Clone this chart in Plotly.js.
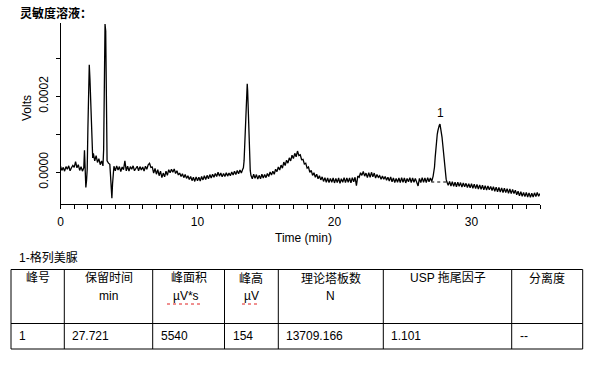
<!DOCTYPE html>
<html><head><meta charset="utf-8">
<script src="https://cdn.plot.ly/plotly-3.0.1.min.js"></script>
<style>html,body{margin:0;padding:0;background:#fff;}#chart{width:598px;height:368px;}</style>
</head><body><div id="chart"></div>
<script>
// ---- data ----
const timeMin = [
0.0,0.1,0.2,0.3,0.4,0.5,0.6,0.7,0.8,0.9,
1.0,1.1,1.2,1.3,1.4,1.5,1.6,1.7,1.75,1.8,
1.85,1.9,1.95,2.0,2.05,2.1,2.15,2.2,2.25,2.3,
2.35,2.4,2.5,2.6,2.7,2.8,2.9,3.0,3.1,3.15,
3.2,3.25,3.3,3.35,3.4,3.5,3.6,3.65,3.7,3.75,
3.8,3.85,3.9,4.0,4.1,4.2,4.3,4.4,4.5,4.6,
4.7,4.8,4.9,5.0,5.1,5.2,5.3,5.4,5.5,5.6,
5.7,5.8,5.9,6.0,6.1,6.2,6.3,6.4,6.5,6.6,
6.7,6.8,6.9,7.0,7.1,7.2,7.3,7.4,7.5,7.6,
7.7,7.8,7.9,8.0,8.1,8.2,8.3,8.4,8.5,8.6,
8.7,8.8,8.9,9.0,9.1,9.2,9.3,9.4,9.5,9.6,
9.7,9.8,9.9,10.0,10.1,10.2,10.3,10.4,10.5,10.6,
10.7,10.8,10.9,11.0,11.1,11.2,11.3,11.4,11.5,11.6,
11.7,11.8,11.9,12.0,12.1,12.2,12.3,12.4,12.5,12.6,
12.7,12.8,12.9,13.0,13.1,13.2,13.3,13.35,13.4,13.45,
13.5,13.55,13.6,13.63,13.66,13.7,13.75,13.8,13.85,13.9,
14.0,14.1,14.2,14.3,14.4,14.5,14.6,14.7,14.8,14.9,
15.0,15.1,15.2,15.3,15.4,15.5,15.6,15.7,15.8,15.9,
16.0,16.1,16.2,16.3,16.4,16.5,16.6,16.7,16.8,16.9,
17.0,17.1,17.2,17.3,17.4,17.5,17.6,17.7,17.8,17.9,
18.0,18.1,18.2,18.3,18.4,18.5,18.6,18.7,18.8,18.9,
19.0,19.1,19.2,19.3,19.4,19.5,19.6,19.7,19.8,19.9,
20.0,20.1,20.2,20.3,20.4,20.5,20.6,20.7,20.8,20.9,
21.0,21.1,21.2,21.3,21.4,21.5,21.6,21.7,21.8,21.9,
22.0,22.1,22.2,22.3,22.4,22.5,22.6,22.7,22.8,22.9,
23.0,23.1,23.2,23.3,23.4,23.5,23.6,23.7,23.8,23.9,
24.0,24.1,24.2,24.3,24.4,24.5,24.6,24.7,24.8,24.9,
25.0,25.1,25.2,25.3,25.4,25.5,25.6,25.7,25.8,25.9,
26.0,26.1,26.2,26.3,26.4,26.5,26.6,26.7,26.8,26.9,
27.0,27.1,27.2,27.25,27.3,27.35,27.4,27.45,27.5,27.55,
27.6,27.65,27.7,27.75,27.8,27.85,27.9,27.95,28.0,28.05,
28.1,28.15,28.2,28.3,28.4,28.5,28.6,28.7,28.8,28.9,
29.0,29.1,29.2,29.3,29.4,29.5,29.6,29.7,29.8,29.9,
30.0,30.1,30.2,30.3,30.4,30.5,30.6,30.7,30.8,30.9,
31.0,31.1,31.2,31.3,31.4,31.5,31.6,31.7,31.8,31.9,
32.0,32.1,32.2,32.3,32.4,32.5,32.6,32.7,32.8,32.9,
33.0,33.1,33.2,33.3,33.4,33.5,33.6,33.7,33.8,33.9,
34.0,34.1,34.2,34.3,34.4,34.5,34.6,34.7,34.8,34.9,
35.0];
// detector signal in microvolts
const signalUV = [
16,5,13,3,15,8,17,4,12,18,
13,28,12,20,5,15,3,12,58,18,
-40,-22,8,115,262,283,245,185,120,58,
38,50,30,44,26,36,20,30,17,60,
300,390,372,120,30,24,21,-8,-52,-68,
-30,4,16,4,17,6,15,2,14,7,
30,4,16,3,15,8,17,4,12,16,
4,15,6,14,3,16,8,20,24,13,
14,-2,10,-5,7,-9,3,-14,-2,-12,
3,-8,7,-1,8,0,9,-3,4,-7,
-2,-11,-4,-14,-6,-16,-9,-19,-11,-22,
-13,-24,-12,-22,-13,-23,-11,-20,-9,-19,
-8,-17,-6,-15,-5,-13,-3,-11,0,-10,
-2,-12,-3,-11,-1,-10,-2,-9,1,-7,
3,-6,5,-4,6,-2,8,12,30,80,
130,190,228,233,215,170,90,30,5,-8,
-17,-5,-16,-6,-18,-8,-17,-5,-15,-6,
-14,-3,-11,1,-7,3,-5,8,2,14,
6,19,11,27,18,32,24,38,30,45,
36,50,41,56,44,46,33,34,22,24,
11,14,0,5,-8,-1,-13,-5,-17,-9,
-20,-12,-24,-14,-26,-15,-27,-16,-26,-15,
-28,-16,-27,-15,-29,-17,-26,-14,-27,-15,
-26,-15,-28,-14,-25,-13,-35,-10,-13,-1,
-8,2,-10,-2,-14,-1,-13,0,-12,-2,
-15,-6,-13,-9,-18,-10,-18,-11,-21,-13,
-23,-12,-25,-15,-27,-16,-26,-15,-27,-14,
-26,-15,-28,-16,-25,-14,-27,-15,-26,-16,
-25,-36,-16,-27,-14,-26,-15,-27,-14,-25,
-15,-24,-10,0,14,40,65,85,100,110,
120,124,127,118,108,92,74,52,32,12,
-3,-18,-25,-34,-24,-36,-25,-37,-26,-38,
-26,-37,-27,-39,-28,-38,-29,-40,-30,-41,
-30,-42,-31,-43,-32,-44,-33,-45,-34,-46,
-35,-47,-36,-46,-37,-48,-38,-50,-39,-51,
-40,-52,-41,-53,-42,-53,-43,-55,-44,-56,
-45,-56,-47,-59,-50,-62,-51,-63,-53,-64,
-53,-65,-54,-66,-55,-65,-54,-64,-53,-63,
-56];
const baselineTime = [27.06, 28.40];
const baselineUV = [-25.5, -25.5];
const peakLabels = ['1'];
const peakTimes = [27.721];
const peakApexUV = [127];
const xTickVals = [0, 10, 20, 30];
const yTickVals = [0, 0.0002];
const yTickText = ['0.0000', '0.0002'];
const chartTitle = '灵敏度溶液：';
const xTitle = 'Time (min)';
const yTitle = 'Volts';
const compoundName = '1-格列美脲';
const tableHeader = ['峰号', '保留时间', '峰面积', '峰高', '理论塔板数', 'USP 拖尾因子', '分离度'];
const tableUnits = ['', 'min', 'µV*s', 'µV', 'N', '', ''];
const tableRow = ['1', '27.721', '5540', '154', '13709.166', '1.101', '--'];

// ---- layout helpers ----
const W = 598, H = 368;
const px = x => x / W;
const py = y => 1 - y / H;
const FONT = 'Liberation Sans, Arial, "Noto Sans CJK SC", sans-serif';
const CJK = '"Noto Sans CJK SC", "Liberation Sans", sans-serif';

const toV = uv => uv * 1e-6;

const traces = [
  {
    x: timeMin, y: signalUV.map(toV), type: 'scatter', mode: 'lines',
    line: {color: '#000', width: 1.3}, hoverinfo: 'skip'
  },
  {
    x: baselineTime, y: baselineUV.map(toV), type: 'scatter', mode: 'lines',
    line: {color: '#000', width: 1, dash: '3px,3px'}, hoverinfo: 'skip'
  }
];

const annotations = [];
const shapes = [];

// chart title and axis titles
annotations.push({xref: 'paper', yref: 'paper', x: px(18), y: py(12.5), xanchor: 'left', yanchor: 'middle',
  text: '<b>' + chartTitle + '</b>', showarrow: false, font: {family: CJK, size: 12, color: '#000'}});
annotations.push({xref: 'paper', yref: 'paper', x: px(303), y: py(238), xanchor: 'center', yanchor: 'middle',
  text: xTitle, showarrow: false, font: {family: FONT, size: 12, color: '#000'}});
annotations.push({xref: 'paper', yref: 'paper', x: px(27), y: py(108), xanchor: 'center', yanchor: 'middle',
  text: yTitle, textangle: -90, showarrow: false, font: {family: FONT, size: 12, color: '#000'}});

// peak labels
peakLabels.forEach((lab, i) => {
  annotations.push({x: peakTimes[i], y: toV(peakApexUV[i]), xref: 'x', yref: 'y', text: lab,
    showarrow: false, yanchor: 'middle', yshift: 11, font: {family: FONT, size: 12, color: '#000'}});
});

// compound caption
annotations.push({xref: 'paper', yref: 'paper', x: px(17), y: py(257.5), xanchor: 'left', yanchor: 'middle',
  text: compoundName, showarrow: false, font: {family: FONT, size: 12, color: '#000'}});

// table grid
const colEdges = [11, 64.3, 152.7, 224.5, 278.3, 383.3, 511.7, 582.7];
const rowEdges = [269.5, 323.5, 349];
rowEdges.forEach(y => shapes.push({type: 'line', xref: 'paper', yref: 'paper',
  x0: px(colEdges[0]), x1: px(colEdges[colEdges.length - 1]), y0: py(y), y1: py(y),
  line: {color: '#000', width: 1}}));
colEdges.forEach(x => shapes.push({type: 'line', xref: 'paper', yref: 'paper',
  x0: px(x), x1: px(x), y0: py(rowEdges[0]), y1: py(rowEdges[rowEdges.length - 1]),
  line: {color: '#000', width: 1}}));

tableHeader.forEach((h, i) => {
  const cx = (colEdges[i] + colEdges[i + 1]) / 2;
  annotations.push({xref: 'paper', yref: 'paper', x: px(cx), y: py(278), xanchor: 'center', yanchor: 'middle',
    text: h, showarrow: false, font: {family: FONT, size: 12, color: '#000'}});
  if (tableUnits[i]) {
    annotations.push({xref: 'paper', yref: 'paper', x: px(cx - (tableUnits[i] === 'µV*s' ? 3 : 0)), y: py(295.5), xanchor: 'center', yanchor: 'middle',
      text: tableUnits[i], showarrow: false, font: {family: FONT, size: 12, color: '#000'}});
  }
});
tableRow.forEach((v, i) => {
  annotations.push({xref: 'paper', yref: 'paper', x: px(colEdges[i] + 6), y: py(336), xanchor: 'left', yanchor: 'middle',
    text: v, showarrow: false, font: {family: FONT, size: 12, color: '#000'}});
});
// spell-check squiggles under the µV units
[[167, 202], [242, 259]].forEach(([a, b]) => shapes.push({type: 'line', xref: 'paper', yref: 'paper',
  x0: px(a), x1: px(b), y0: py(304), y1: py(304), line: {color: '#e02020', width: 1, dash: 'dot'}}));

const layout = {
  width: W, height: H, margin: {l: 0, r: 0, t: 0, b: 0},
  paper_bgcolor: '#fff', plot_bgcolor: '#fff', showlegend: false,
  font: {family: FONT, size: 12, color: '#000'},
  xaxis: {
    domain: [px(60.5), px(540)], range: [0, 35],
    showline: true, linecolor: '#000', linewidth: 1, mirror: false,
    ticks: 'outside', ticklen: 4, tickcolor: '#000', tickwidth: 1,
    tickmode: 'array', tickvals: xTickVals, ticktext: xTickVals.map(String),
    ticklabelstandoff: 3,
    minor: {tick0: 0, dtick: 1, ticks: 'outside', ticklen: 4, tickcolor: '#000', showgrid: false},
    showgrid: false, zeroline: false, fixedrange: true,
    tickfont: {family: FONT, size: 12, color: '#000'}
  },
  yaxis: {
    domain: [py(204), py(23)], range: [-0.0000834, 0.0003929],
    showline: true, linecolor: '#000', linewidth: 1,
    ticks: 'outside', ticklen: 4, tickcolor: '#000', tickwidth: 1,
    tickmode: 'array', tickvals: yTickVals, ticktext: yTickText, tickangle: -90,
    ticklabelstandoff: 3,
    minor: {tick0: 0, dtick: 0.0001, ticks: 'outside', ticklen: 4, tickcolor: '#000', showgrid: false},
    showgrid: false, zeroline: false, fixedrange: true,
    tickfont: {family: FONT, size: 12, color: '#000'}
  },
  annotations: annotations,
  shapes: shapes
};

Plotly.newPlot('chart', traces, layout, {displayModeBar: false, staticPlot: true});
</script>
</body></html>
